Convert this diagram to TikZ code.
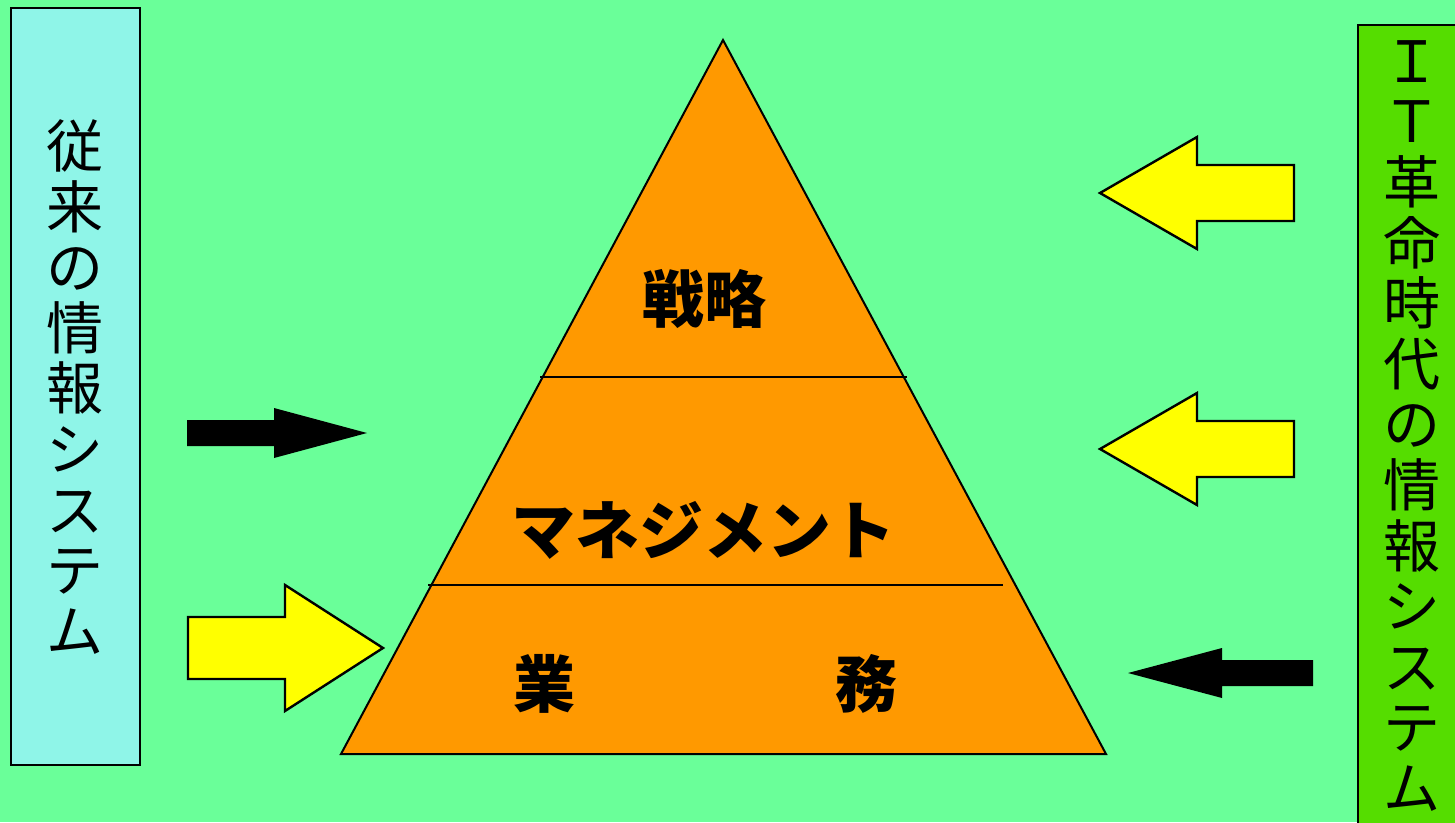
\documentclass[tikz,border=0pt]{standalone}
\usepackage{fontspec}
\newfontfamily\jp{Noto Sans CJK JP}
\definecolor{bg}{RGB}{106,255,153}
\definecolor{leftbox}{RGB}{143,245,232}
\definecolor{rightbox}{RGB}{85,221,0}
\definecolor{pyr}{RGB}{255,153,0}
\definecolor{yel}{RGB}{255,255,0}
\tikzset{
  sidebox/.style={draw=black, line width=2.6pt},
  vtext/.style={font=\jp\fontsize{57}{60.6}\selectfont, align=center, inner sep=0pt},
  ptext/.style={font=\jp\bfseries\fontsize{62}{62}\selectfont, inner sep=0pt},
  yarrow/.style={fill=yel, draw=black, line width=2.4pt, line join=miter},
  barrow/.style={fill=black},
  divider/.style={draw=black, line width=2pt}
}
\begin{document}
\begin{tikzpicture}[x=1pt,y=-1pt]
\useasboundingbox (0,0) rectangle (1455,822);
\clip (0,0) rectangle (1455,822);
\fill[bg] (0,0) rectangle (1455,822);
% side boxes
\filldraw[sidebox, fill=leftbox] (11,8) rectangle (140,765);
\filldraw[sidebox, fill=rightbox] (1358,25) rectangle (1470,840);
\node[vtext] (lt) at (75,387) {従\\来\\の\\情\\報\\シ\\ス\\テ\\ム};
\node[vtext] (rt) at (1412,426) {Ｉ\\Ｔ\\革\\命\\時\\代\\の\\情\\報\\シ\\ス\\テ\\ム};
% pyramid
\filldraw[fill=pyr, draw=black, line width=2pt, line join=miter] (723,40) -- (1106,754) -- (341,754) -- cycle;
\draw[divider] (540,377) -- (907,377);
\draw[divider] (428,585) -- (1003,585);
\node[ptext] (t1) at (704,299) {戦略};
\node[ptext, font=\jp\bfseries\fontsize{64}{64}\selectfont] (t2) at (703,530) {マネジメント};
\node[ptext] (t3a) at (544,684) {業};
\node[ptext] (t3b) at (866,684) {務};
% arrows
\fill[barrow] (187,420) -- (274,420) -- (274,408) -- (367,433) -- (274,458) -- (274,446) -- (187,446) -- cycle;
\filldraw[yarrow] (188,617) -- (285,617) -- (285,585) -- (383,648) -- (285,711) -- (285,679) -- (188,679) -- cycle;
\filldraw[yarrow] (1294,165) -- (1197,165) -- (1197,137) -- (1100,193) -- (1197,249) -- (1197,221) -- (1294,221) -- cycle;
\filldraw[yarrow] (1294,421) -- (1197,421) -- (1197,393) -- (1100,449) -- (1197,505) -- (1197,477) -- (1294,477) -- cycle;
\fill[barrow] (1313,660) -- (1222,660) -- (1222,648) -- (1128,673) -- (1222,698) -- (1222,686) -- (1313,686) -- cycle;
\end{tikzpicture}
\end{document}
